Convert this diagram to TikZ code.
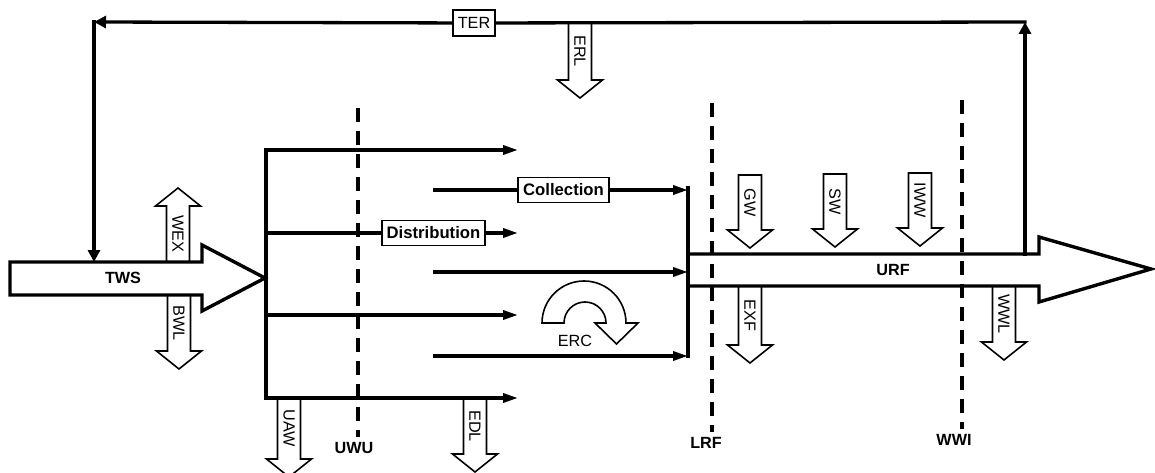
\documentclass[tikz,border=0pt]{standalone}
\usepackage{fontspec}
\setmainfont{Liberation Sans}[Scale=1.62]
\usetikzlibrary{arrows.meta,calc}

% block arrows: x, start, tip, text, name
\newcommand{\flowdown}[5]{%
  \draw[flow] (#1-11.5,#2) -- (#1-11.5,#3-18) -- (#1-22.5,#3-18) -- (#1,#3)
    -- (#1+22.5,#3-18) -- (#1+11.5,#3-18) -- (#1+11.5,#2) -- cycle;
  \node[flowtext] (#5) at (#1,{(#2+#3-18)/2}) {#4};}
\newcommand{\flowup}[5]{%
  \draw[flow] (#1-11.5,#2) -- (#1-11.5,#3+18) -- (#1-22.5,#3+18) -- (#1,#3)
    -- (#1+22.5,#3+18) -- (#1+11.5,#3+18) -- (#1+11.5,#2) -- cycle;
  \node[flowtext] (#5) at (#1,{(#2+#3+18)/2}) {#4};}

\begin{document}
\begin{tikzpicture}[x=1pt,y=-1pt,
    wire/.style={line width=3.3pt,line cap=rect},
    feed/.style={wire,-{Triangle[length=15pt,width=9pt]}},
    back/.style={wire,-{Triangle[length=12pt,width=12pt]}},
    bound/.style={line width=3.3pt,dash pattern=on 14pt off 9pt},
    flow/.style={draw,fill=white,line width=1.6pt,line join=miter},
    bigflow/.style={draw,fill=white,line width=3.4pt,line join=miter},
    flowtext/.style={rotate=-90,inner sep=0pt},
    tag/.style={draw,fill=white,line width=1.7pt,inner xsep=5pt,minimum height=25pt,
                font=\fontsize{10.3}{12}\selectfont\bfseries},
  ]
  \useasboundingbox (0,0) rectangle (1155,473);
  \clip (0,0) rectangle (1155,473);

  \flowdown{580}{22}{98}{ERL}{erl}
  \flowup{178}{262}{188}{WEX}{wex}
  \flowdown{179}{295}{369}{BWL}{bwl}
  \flowdown{289}{398}{477}{UAW}{uaw}
  \flowdown{475}{398}{472}{EDL}{edl}
  \flowdown{750}{175}{248}{GW}{gw}
  \flowdown{835}{174}{247}{SW}{sw}
  \flowdown{920}{173}{246}{IWW}{iww}
  \flowdown{750}{286}{363}{EXF}{exf}
  \flowdown{1004}{286}{360}{WWL}{wwl}

  \draw[bigflow] (688,254) -- (1039,254) -- (1039,237) -- (1151,269) -- (1039,302)
    -- (1039,286) -- (688,286);
  \node[font=\bfseries] (urf) at (893,270) {URF};
  \draw[bigflow] (10,262) -- (202,262) -- (202,245) -- (265,278) -- (202,311)
    -- (202,295) -- (10,295) -- cycle;
  \node[font=\bfseries] (tws) at (123,278) {TWS};

  % distribution
  \coordinate (netTop) at (266,150);
  \coordinate (netBot) at (266,398);
  \draw[wire] (netTop) -- (netBot);
  \foreach \y/\n in {150/a,315/c,398/d}{
    \coordinate (out\n) at (266,\y);
    \coordinate (end\n) at (518,\y);
    \draw[feed] (out\n) -- (end\n);
  }
  \node[tag] (dist) at (433.5,233) {Distribution};
  \coordinate (outb) at (266,233);
  \coordinate (endb) at (518,233);
  \draw[wire] (outb) -- (dist);
  \draw[feed] (dist) -- (endb);

  % collection
  \coordinate (mixTop) at (688,188);
  \coordinate (mixBot) at (688,356);
  \node[tag] (coll) at (563.5,190) {Collection};
  \coordinate (colIn) at (435,190);
  \draw[wire] (colIn) -- (coll);
  \draw[feed] (coll) -- (coll -| mixTop);
  \foreach \y/\n in {272/b,356/c}{
    \coordinate (in\n) at (435,\y);
    \coordinate (mix\n) at (688,\y);
    \draw[feed] (in\n) -- (mix\n);
  }
  \draw[wire] (mixTop) -- (mixBot);

  \draw[flow] (542,323) arc[start angle=180,end angle=360,radius=42] -- (638,323)
    -- (616.5,344) -- (595,323) -- (606,323) arc[start angle=360,end angle=180,radius=21] -- cycle;
  \node (erc) at (575,341) {ERC};

  % recycling loop
  \coordinate (fbA) at (1025,254);
  \coordinate (fbB) at (1025,22);
  \coordinate (fbC) at (94,22);
  \coordinate (fbD) at (94,262);
  \node[draw,fill=white,line width=1.7pt,inner xsep=5pt,minimum height=26pt] (ter) at (474,23) {TER};
  \draw[back] (fbA) -- (fbB);
  \draw[wire] (fbB) -- (ter);
  \draw[back] (ter) -- (fbC);
  \draw[back] (fbC) -- (fbD);

  % boundaries
  \node[font=\bfseries] (uwu) at (354,448) {UWU};
  \node[font=\bfseries] (lrf) at (706,443) {LRF};
  \node[font=\bfseries] (wwi) at (954,440) {WWI};
  \coordinate (uwuTop) at (358,108);
  \coordinate (lrfTop) at (712,103);
  \coordinate (wwiTop) at (962,100);
  \draw[bound] (uwuTop) -- (uwuTop |- uwu.north);
  \draw[bound] (lrfTop) -- (lrfTop |- lrf.north);
  \draw[bound] (wwiTop) -- (wwiTop |- wwi.north);
\end{tikzpicture}
\end{document}
